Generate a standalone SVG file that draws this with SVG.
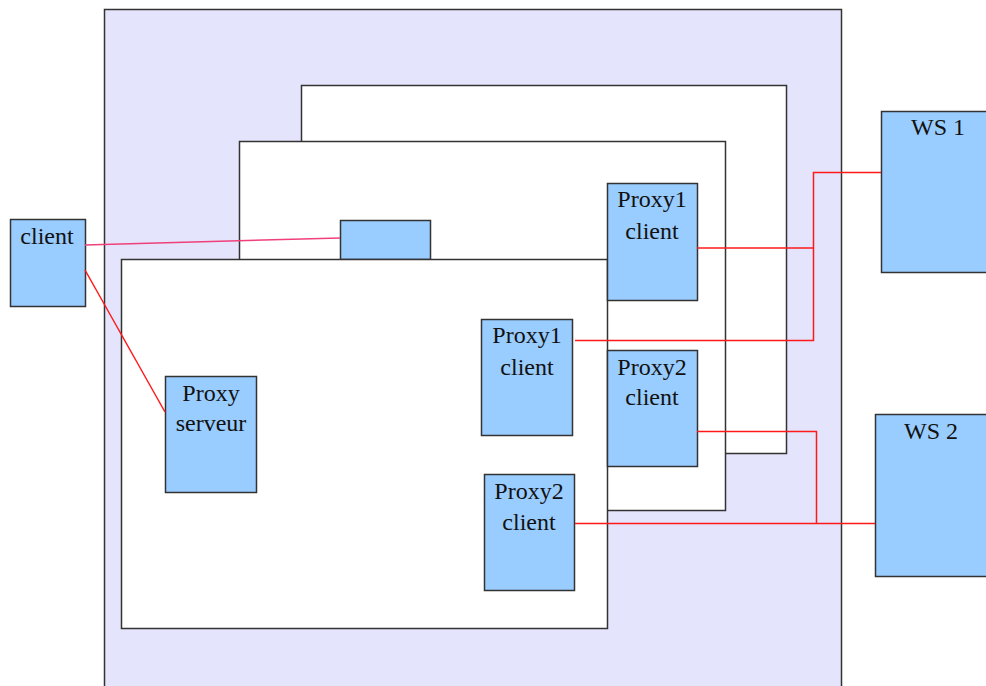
<svg xmlns="http://www.w3.org/2000/svg" width="986" height="686" viewBox="0 0 986 686">
<style>
.frame{fill:#ffffff;stroke:#333;stroke-width:1.5}
.box{fill:#99ccff;stroke:#333;stroke-width:1.5}
.t{font-family:"Liberation Serif",serif;font-size:24px;fill:#111;text-anchor:middle}
.c{fill:none;stroke:#ff1a1a;stroke-width:1.5}
.p{fill:none;stroke:#f0407a;stroke-width:1.5}
</style>
<rect width="986" height="686" fill="#ffffff"/>
<g id="container"><rect x="104.5" y="9.5" width="737" height="690" fill="#e4e4fc" stroke="#333" stroke-width="1.5"/></g>
<g id="frame3"><rect class="frame" x="301.5" y="85.5" width="485" height="368"/></g>
<g id="frame2"><rect class="frame" x="239.5" y="141.5" width="486" height="369"/></g>
<g id="smallbox"><rect class="box" x="340.5" y="220.5" width="90" height="39"/></g>
<g id="frame1"><rect class="frame" x="121.5" y="259.5" width="486" height="369"/></g>
<g id="client"><rect class="box" x="10.5" y="219.5" width="75" height="87"/><text class="t" x="47" y="244">client</text></g>
<g id="proxyserveur"><rect class="box" x="165.5" y="376.5" width="91" height="116"/><text class="t" x="211" y="401">Proxy</text><text class="t" x="211" y="431">serveur</text></g>
<g id="proxy1front"><rect class="box" x="481.5" y="319.5" width="91" height="116"/><text class="t" x="527" y="343">Proxy1</text><text class="t" x="527" y="375">client</text></g>
<g id="proxy2front"><rect class="box" x="484.5" y="474.5" width="90" height="116"/><text class="t" x="529" y="499">Proxy2</text><text class="t" x="529" y="530">client</text></g>
<g id="proxy1back"><rect class="box" x="607.5" y="183.5" width="90" height="117"/><text class="t" x="652" y="207">Proxy1</text><text class="t" x="652" y="239">client</text></g>
<g id="proxy2back"><rect class="box" x="607.5" y="350.5" width="90" height="116"/><text class="t" x="652" y="375">Proxy2</text><text class="t" x="652" y="405">client</text></g>
<g id="ws1"><rect class="box" x="881.5" y="111.5" width="120" height="161"/><text class="t" x="938" y="135">WS 1</text></g>
<g id="ws2"><rect class="box" x="875.5" y="414.5" width="120" height="162"/><text class="t" x="931" y="439">WS 2</text></g>
<g id="connectors">
<path class="p" d="M85,245 L340,238"/>
<path class="c" d="M85,270 L165,412"/>
<path class="c" d="M697,248 H813.5"/>
<path class="c" d="M575,340.5 H813.5 V172.5 H881"/>
<path class="c" d="M697,431.5 H816.5 V523"/>
<path class="c" d="M575,523.5 H875"/>
</g>
</svg>
